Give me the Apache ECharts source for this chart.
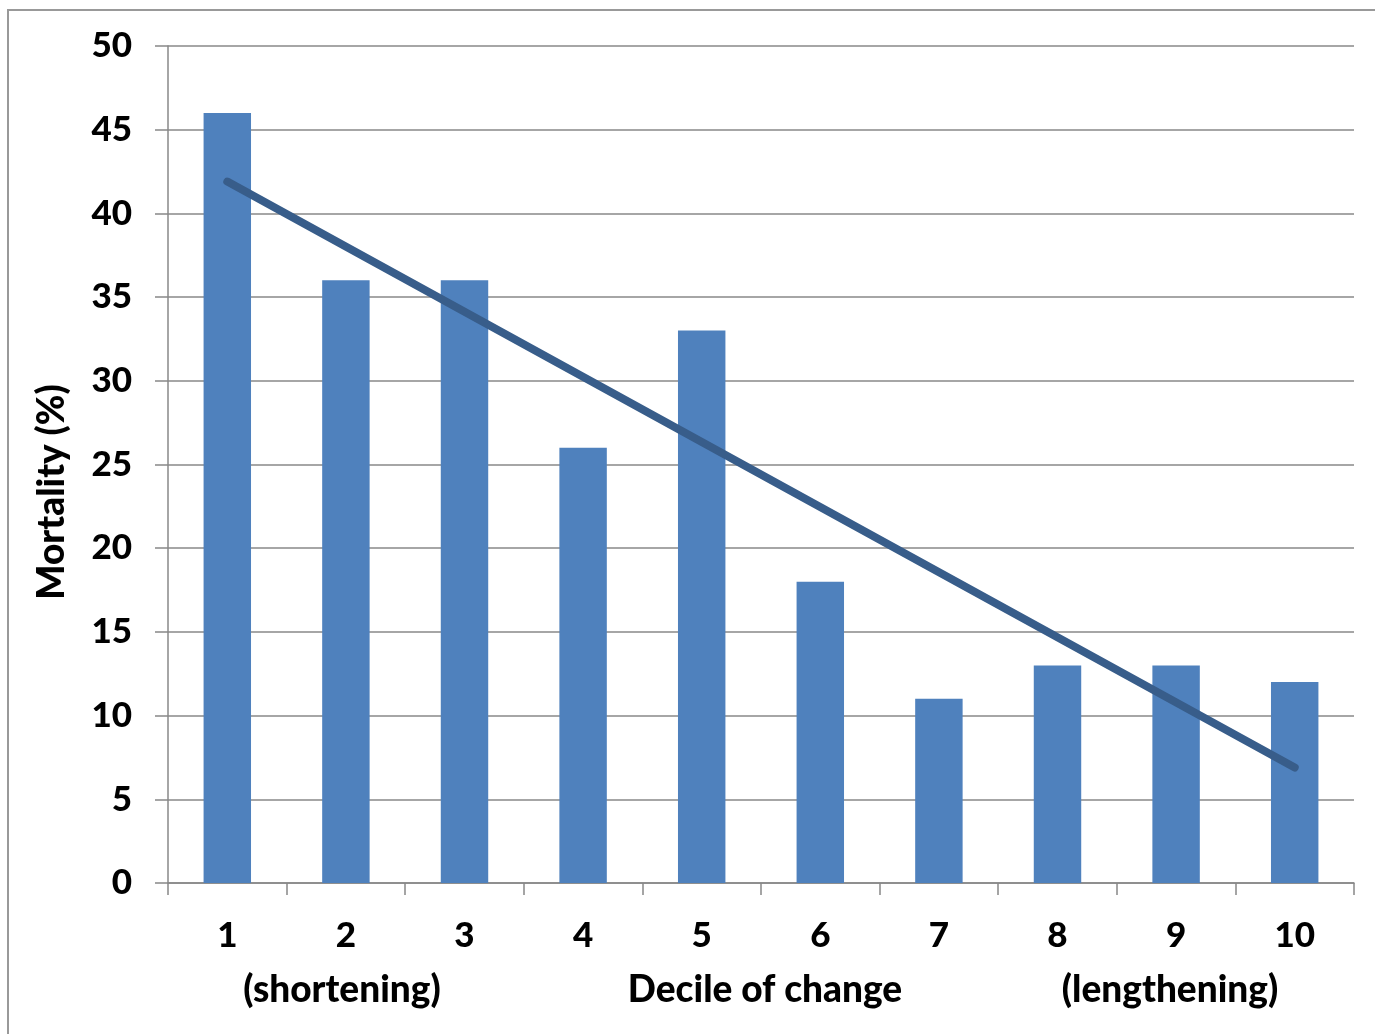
<!DOCTYPE html>
<html><head><meta charset="utf-8">
<script src="https://cdn.jsdelivr.net/npm/echarts@6/dist/echarts.min.js"></script>
<style>html,body{margin:0;padding:0;background:#fff}#c{width:1375px;height:1034px}</style>
</head><body><div id="c"></div>
<script>
const categories = ['1','2','3','4','5','6','7','8','9','10'];
const mortality = [46, 36, 36, 26, 33, 18, 11, 13, 13, 12];
const trendStart = 41.9;
const trendEnd = 6.9;
const yTicks = [0, 5, 10, 15, 20, 25, 30, 35, 40, 45, 50];
const bottomLabels = ['(shortening)', 'Decile of change', '(lengthening)'];

const FONT = 'Lato';
const W = 900;
const chart = echarts.init(document.getElementById('c'));
chart.setOption({
  animation: false,
  backgroundColor: '#fff',
  grid: { left: 168, right: 21, top: 46, bottom: 151 },
  xAxis: {
    type: 'category', data: categories, boundaryGap: true,
    axisLine: { lineStyle: { color: '#888', width: 1.5 } },
    axisTick: { show: true, length: 12, lineStyle: { color: '#888', width: 1.5 } },
    axisLabel: { margin: 35, fontFamily: FONT, fontWeight: W, fontSize: 35, color: '#000' }
  },
  yAxis: {
    type: 'value', min: yTicks[0], max: yTicks[yTicks.length - 1], interval: 5,
    axisLine: { show: true, lineStyle: { color: '#888', width: 1.5 } },
    axisTick: { show: true, length: 13, lineStyle: { color: '#888', width: 1.5 } },
    splitLine: { lineStyle: { color: '#888', width: 1.5 } },
    axisLabel: { margin: 36, fontFamily: FONT, fontWeight: W, fontSize: 35, color: '#000' }
  },
  series: [
    { type: 'bar', data: mortality, barWidth: '40%', itemStyle: { color: '#4F81BD' } },
    { type: 'line', data: [[0, trendStart], [categories.length - 1, trendEnd]],
      symbol: 'none', lineStyle: { color: '#385D8A', width: 8, cap: 'round' }, z: 5 }
  ],
  graphic: [
    { type: 'rect', shape: { x: 8, y: 10, width: 1500, height: 1200 },
      style: { fill: 'none', stroke: '#999', lineWidth: 2 }, silent: true },
    { type: 'text', x: 52, y: 492, rotation: Math.PI / 2,
      style: { text: 'Mortality (%)', fontFamily: FONT, fontWeight: W, fontSize: 37,
        fill: '#000', align: 'center', verticalAlign: 'middle' } },
    { type: 'text', x: 342, y: 990,
      style: { text: bottomLabels[0], fontFamily: FONT, fontWeight: W, fontSize: 37,
        fill: '#000', align: 'center', verticalAlign: 'middle' } },
    { type: 'text', x: 765, y: 990,
      style: { text: bottomLabels[1], fontFamily: FONT, fontWeight: W, fontSize: 37,
        fill: '#000', align: 'center', verticalAlign: 'middle' } },
    { type: 'text', x: 1170, y: 990,
      style: { text: bottomLabels[2], fontFamily: FONT, fontWeight: W, fontSize: 37,
        fill: '#000', align: 'center', verticalAlign: 'middle' } }
  ]
});
</script></body></html>
